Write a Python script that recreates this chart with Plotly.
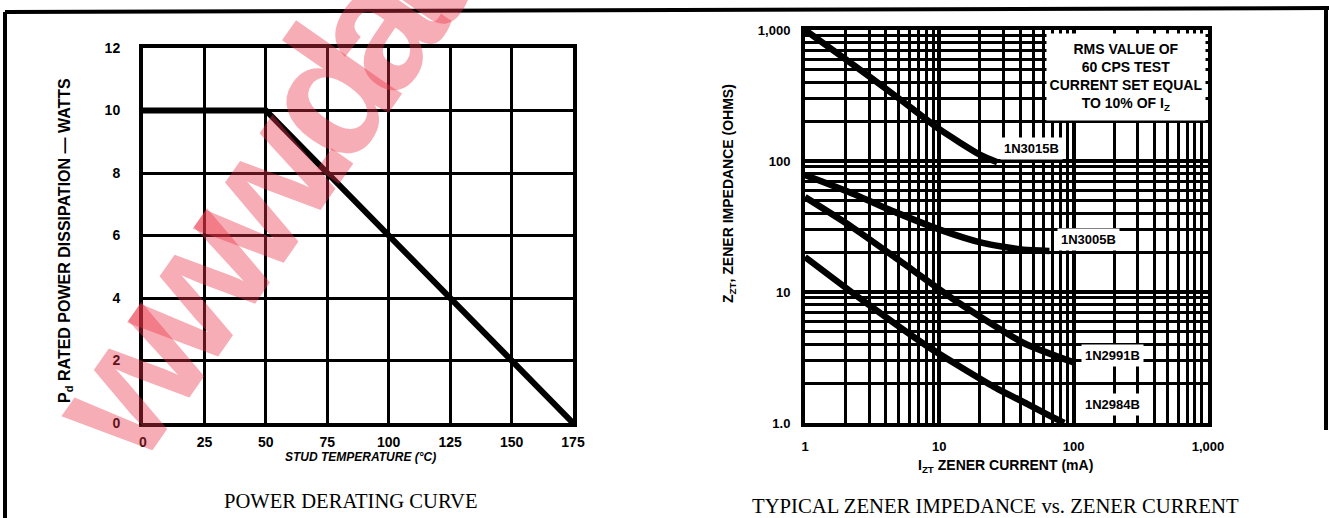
import plotly.graph_objects as go

W, H = 1329, 518

# ---------------- data ----------------
# Power derating curve
temp_c = [0, 50, 175]
power_w = [10, 10, 0]
temp_ticks = [0, 25, 50, 75, 100, 125, 150, 175]
power_ticks = [0, 2, 4, 6, 8, 10, 12]

# Zener impedance vs zener current
iz_3015 = [1, 2, 5, 10, 20, 27]
zz_3015 = [1000, 600, 300, 175, 112, 98]
iz_3005 = [1, 2.2, 4.9, 10.3, 21, 42, 66]
zz_3005 = [78, 57, 40, 29.7, 23.7, 21, 20.6]
iz_2991 = [1, 2.24, 5.0, 14.1, 42, 100]
zz_2991 = [53, 31.3, 17.5, 8.2, 4.1, 2.9]
iz_2984 = [1, 2.66, 8.3, 25.7, 45, 65, 85]
zz_2984 = [18.5, 8.7, 3.8, 1.88, 1.4, 1.15, 1.0]

log_major = [1, 10, 100, 1000]
log_major_text_x = ["1", "10", "100", "1,000"]
log_major_text_y = ["1.0", "10", "100", "1,000"]
log_minor = [m * d for d in [1, 10, 100] for m in range(2, 10)]

# ---------------- helpers ----------------
def px(x):
    return x / W

def py(y):
    return 1 - y / H

SANS = "Liberation Sans, Arial, sans-serif"
SERIF = "Liberation Serif, Times New Roman, serif"
INK = "black"

fig = go.Figure()

fig.add_trace(go.Scatter(x=temp_c, y=power_w, mode="lines",
                         line=dict(color=INK, width=6), xaxis="x", yaxis="y",
                         showlegend=False, hoverinfo="skip"))

for xs, ys in [(iz_3015, zz_3015), (iz_3005, zz_3005), (iz_2991, zz_2991), (iz_2984, zz_2984)]:
    fig.add_trace(go.Scatter(x=xs, y=ys, mode="lines",
                             line=dict(color=INK, width=6.5, shape="spline", smoothing=0.6),
                             xaxis="x2", yaxis="y2", showlegend=False, hoverinfo="skip"))

lin_axis = dict(showgrid=True, gridcolor=INK, gridwidth=3, showline=True, linecolor=INK,
                linewidth=4, mirror=True, zeroline=False, ticks="", ticklen=0,
                tickfont=dict(family=SANS, size=14, color=INK, weight="bold"))

log_axis = dict(type="log", range=[0, 3], showgrid=True, gridcolor=INK, gridwidth=3.5,
                showline=True, linecolor=INK, linewidth=4, mirror=True, zeroline=False,
                ticks="", ticklen=0, tickmode="array", tickvals=log_major,
                minor=dict(tickmode="array", tickvals=log_minor, showgrid=True,
                           gridcolor=INK, gridwidth=2.5, ticks="", ticklen=0),
                tickfont=dict(family=SANS, size=13, color=INK, weight="bold"))

fig.update_layout(
    width=W, height=H, autosize=False,
    margin=dict(l=0, r=0, t=0, b=0, autoexpand=False),
    paper_bgcolor="white", plot_bgcolor="white",
    xaxis=dict(lin_axis, domain=[px(143), px(573)], range=[0, 175], tickvals=temp_ticks,
               anchor="y", ticklabelstandoff=3),
    yaxis=dict(lin_axis, domain=[py(423), py(48)], range=[0, 12], tickvals=power_ticks,
               anchor="x", ticklabelstandoff=16),
    xaxis2=dict(log_axis, domain=[px(805), px(1208)], ticktext=log_major_text_x,
                anchor="y2", ticklabelstandoff=8),
    yaxis2=dict(log_axis, domain=[py(423), py(30)], ticktext=log_major_text_y,
                anchor="x2", ticklabelstandoff=8),
)

ann = []
# axis titles
ann.append(dict(text="P<sub>d</sub> RATED POWER DISSIPATION — WATTS", x=px(65), y=py(241),
                textangle=-90, font=dict(family=SANS, size=16, color=INK, weight="bold")))
ann.append(dict(text="STUD TEMPERATURE (°C)", x=px(360), y=py(457),
                font=dict(family=SANS, size=12, color=INK, weight="bold", style="italic")))
ann.append(dict(text="Z<sub>ZT</sub>, ZENER IMPEDANCE (OHMS)", x=px(729), y=py(194),
                textangle=-90, font=dict(family=SANS, size=14, color=INK, weight="bold")))
ann.append(dict(text="I<sub>ZT</sub> ZENER CURRENT (mA)", x=px(1005), y=py(466),
                font=dict(family=SANS, size=14, color=INK, weight="bold")))
# captions
ann.append(dict(text="POWER DERATING CURVE", x=px(350), y=py(501),
                font=dict(family=SERIF, size=20.6, color=INK)))
ann.append(dict(text="TYPICAL ZENER IMPEDANCE vs. ZENER CURRENT", x=px(996), y=py(506),
                font=dict(family=SERIF, size=20.7, color=INK)))
# note box
ann.append(dict(text="RMS VALUE OF<br>60 CPS TEST<br>CURRENT SET EQUAL<br>TO 10% OF I<sub>Z</sub>",
                x=px(1126), y=py(77), width=156, height=84, bgcolor="white", align="center",
                font=dict(family=SANS, size=14, color=INK, weight="bold")))
# curve labels
for name, cx, cy in [("1N3015B", 1031, 148), ("1N3005B", 1088, 240),
                     ("1N2991B", 1112, 355), ("1N2984B", 1112, 404)]:
    ann.append(dict(text=name, x=px(cx), y=py(cy), bgcolor="white", borderpad=3,
                    font=dict(family=SANS, size=13, color=INK, weight="bold")))
# watermark
ann.append(dict(text='<span style="letter-spacing:-24px">www.datasheet4u.com</span>',
                x=px(509), y=py(-167), textangle=-55,
                font=dict(family=SANS, size=178, color="rgba(235,50,70,0.4)", weight="bold")))

for a in ann:
    a.setdefault("xref", "paper")
    a.setdefault("yref", "paper")
    a.setdefault("showarrow", False)
    a.setdefault("xanchor", "center")
    a.setdefault("yanchor", "middle")
fig.update_layout(annotations=ann)

# page frame
frame = dict(type="line", xref="paper", yref="paper", line=dict(color=INK, width=4))
fig.update_layout(shapes=[
    dict(frame, x0=px(5), y0=py(12), x1=px(1329), y1=py(8)),
    dict(frame, x0=px(5), y0=py(12), x1=px(5), y1=py(518)),
    dict(frame, x0=px(1326), y0=py(8), x1=px(1326), y1=py(430)),
])

page_css = (
    "var s=document.createElement('style');"
    "s.innerHTML='html,body{margin:0;padding:0;overflow:hidden;}';"
    "document.head.appendChild(s);"
)

fig.write_html("out.html", config={"displayModeBar": False}, post_script=page_css)
